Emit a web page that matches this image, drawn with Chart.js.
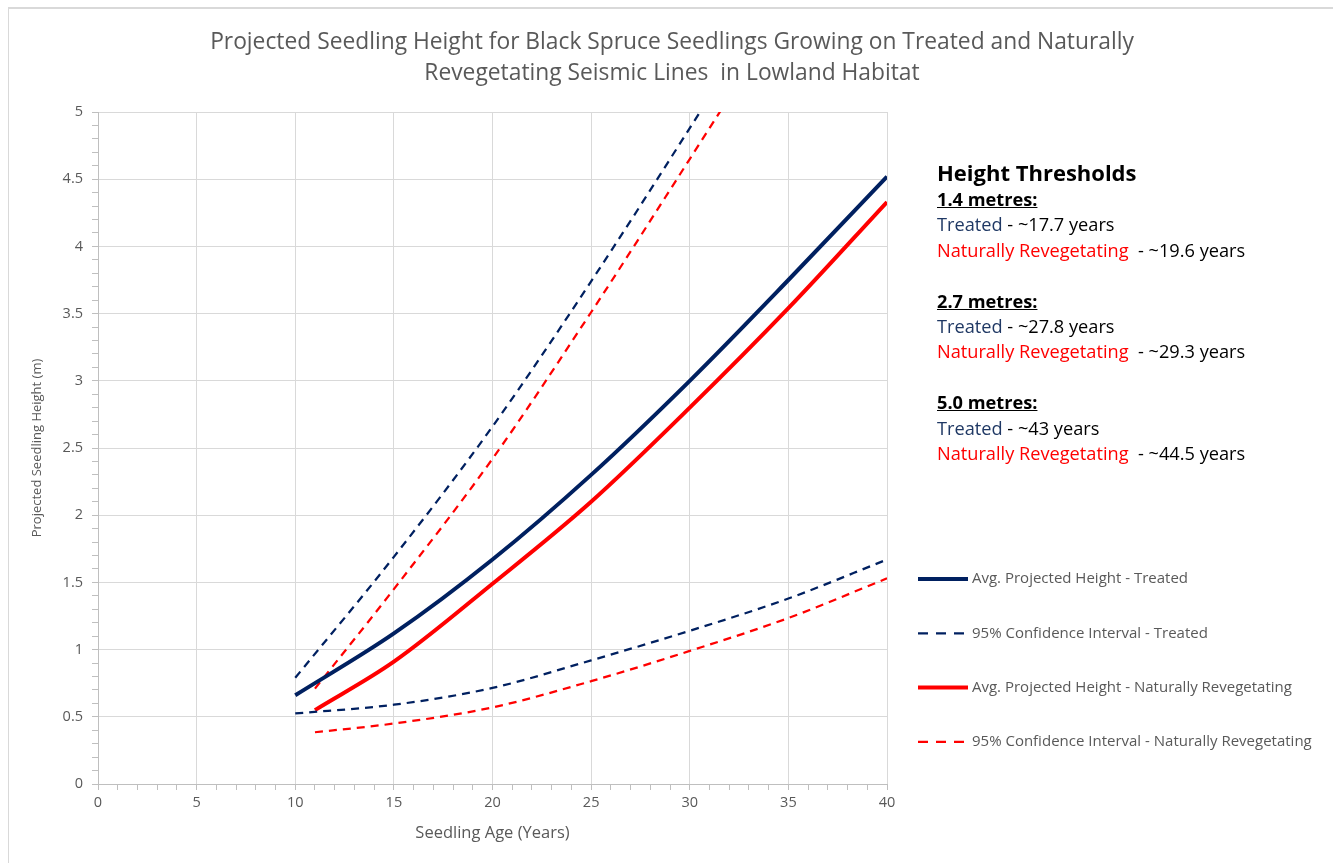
<!DOCTYPE html>
<html>
<head>
<meta charset="utf-8">
<script src="https://cdn.jsdelivr.net/npm/chart.js@4.4.1/dist/chart.umd.min.js"></script>
<style>
  body { margin: 0; background: #fff; font-family: "Open Sans", Lato, sans-serif; }
  #frame { position: absolute; left: 8px; top: 7px; width: 1340px; height: 870px; border-top: 2px solid #d9d9d9; border-left: 1px solid #d9d9d9; }
  #wrap { position: absolute; left: 0; top: 0; width: 1333px; height: 863px; }
  #title { position: absolute; left: 0; width: 1344px; top: 25px; text-align: center; color: #595959; font-size: 22.8px; line-height: 31px; }
  #thresh { position: absolute; left: 937px; top: 158px; color: #000; font-size: 18.2px; line-height: 25.4px; white-space: pre; }
  #thresh .head { font-size: 22px; font-weight: bold; line-height: 29px; }
  #thresh .m { font-weight: bold; text-decoration: underline; }
  .tr { color: #1f3864; }
  .nr { color: #ff0000; }
</style>
</head>
<body>
<div id="frame"></div>
<div id="wrap"><canvas id="chart" width="1333" height="863"></canvas></div>
<div id="title">Projected Seedling Height for Black Spruce Seedlings Growing on Treated and Naturally<br>Revegetating Seismic Lines&nbsp; in Lowland Habitat</div>
<div id="thresh"><div class="head">Height Thresholds</div><div class="m">1.4 metres:</div><div><span class="tr">Treated</span> - ~17.7 years</div><div><span class="nr">Naturally Revegetating</span>  - ~19.6 years</div><div>&nbsp;</div><div class="m">2.7 metres:</div><div><span class="tr">Treated</span> - ~27.8 years</div><div><span class="nr">Naturally Revegetating</span>  - ~29.3 years</div><div>&nbsp;</div><div class="m">5.0 metres:</div><div><span class="tr">Treated</span> - ~43 years</div><div><span class="nr">Naturally Revegetating</span>  - ~44.5 years</div></div>
<script>
// Seedling ages (years)
const ageTreated = [10, 15, 20, 25, 30, 35, 40];
const ageNatural = [11, 15, 20, 25, 30, 35, 40];
const ageTreatedUpper = [10, 15, 20, 25, 30, 35];
const ageNaturalUpper = [11, 15, 20, 25, 30, 35];

// Projected heights (m)
const avgTreated = [0.66, 1.12, 1.67, 2.30, 3.00, 3.75, 4.52];
const upperTreated = [0.79, 1.69, 2.66, 3.74, 4.88, 6.05];
const lowerTreated = [0.525, 0.59, 0.715, 0.92, 1.14, 1.38, 1.67];
const avgNatural = [0.55, 0.91, 1.49, 2.10, 2.80, 3.54, 4.33];
const upperNatural = [0.71, 1.45, 2.42, 3.51, 4.65, 5.80];
const lowerNatural = [0.385, 0.45, 0.57, 0.765, 0.99, 1.235, 1.53];

const navy = '#002060';
const red = '#ff0000';
const grey = '#595959';
const font = '"Open Sans"';

function pts(xs, ys) {
  return xs.map((x, i) => ({ x: x, y: ys[i] }));
}

function line(data, color, width, dashed, legendText) {
  return {
    data: data,
    borderColor: color,
    backgroundColor: color,
    borderWidth: width,
    borderDash: dashed ? [8, 6] : [],
    pointRadius: 0,
    cubicInterpolationMode: 'monotone',
    fill: false,
    legendText: legendText
  };
}

// legend drawn at the right side like the original
const sideLegend = {
  id: 'sideLegend',
  afterDraw(chart) {
    const ctx = chart.ctx;
    const items = chart.data.datasets.filter(d => d.legendText);
    items.forEach((d, i) => {
      const y = 579 + i * 54.3;
      ctx.save();
      ctx.strokeStyle = d.borderColor;
      ctx.lineWidth = d.borderWidth;
      ctx.setLineDash(d.borderDash.length ? [10, 8] : []);
      ctx.beginPath();
      ctx.moveTo(918, y);
      ctx.lineTo(968, y);
      ctx.stroke();
      ctx.fillStyle = grey;
      ctx.font = '15px ' + font;
      ctx.textBaseline = 'middle';
      ctx.fillText(d.legendText, 972, y);
      ctx.restore();
    });
  }
};

const isMajor = (v, step) => Math.abs(v / step - Math.round(v / step)) < 1e-6;

new Chart(document.getElementById('chart'), {
  type: 'line',
  data: {
    datasets: [
      line(pts(ageTreated, avgTreated), navy, 4, false, 'Avg. Projected Height - Treated'),
      line(pts(ageTreatedUpper, upperTreated), navy, 2.25, true, '95% Confidence Interval - Treated'),
      line(pts(ageTreated, lowerTreated), navy, 2.25, true, null),
      line(pts(ageNatural, avgNatural), red, 4, false, 'Avg. Projected Height - Naturally Revegetating'),
      line(pts(ageNaturalUpper, upperNatural), red, 2.25, true, '95% Confidence Interval - Naturally Revegetating'),
      line(pts(ageNatural, lowerNatural), red, 2.25, true, null)
    ]
  },
  options: {
    responsive: false,
    animation: false,
    layout: { padding: { top: 112, right: 446, left: 0, bottom: 0 } },
    plugins: { legend: { display: false }, tooltip: { enabled: false }, title: { display: false } },
    scales: {
      x: {
        type: 'linear', min: 0, max: 40,
        afterFit: s => { s.height = 79; },
        ticks: {
          stepSize: 1, autoSkip: false, maxRotation: 0, color: grey, padding: 4,
          font: { family: font, size: 14.5 },
          callback: v => isMajor(v, 5) ? String(v) : ''
        },
        grid: {
          color: c => isMajor(c.tick.value, 5) ? '#d9d9d9' : 'rgba(0,0,0,0)',
          tickColor: '#bfbfbf', tickLength: 6
        },
        border: { color: '#bfbfbf' },
        title: { display: true, text: 'Seedling Age (Years)', color: grey, font: { family: font, size: 16.5 }, padding: { top: 0, bottom: 20 } }
      },
      y: {
        min: 0, max: 5,
        afterFit: s => { s.width = 98; },
        ticks: {
          stepSize: 0.1, autoSkip: false, color: grey, padding: 9,
          font: { family: font, size: 14.5 },
          callback: v => isMajor(v, 0.5) ? String(Math.round(v * 10) / 10) : ''
        },
        grid: {
          color: c => isMajor(c.tick.value, 0.5) ? '#d9d9d9' : 'rgba(0,0,0,0)',
          tickColor: '#bfbfbf', tickLength: 6
        },
        border: { color: '#bfbfbf' },
        title: { display: true, text: 'Projected Seedling Height (m)', color: grey, font: { family: font, size: 13 }, padding: { top: 29, bottom: 0 } }
      }
    }
  },
  plugins: [sideLegend]
});
</script>
</body>
</html>
